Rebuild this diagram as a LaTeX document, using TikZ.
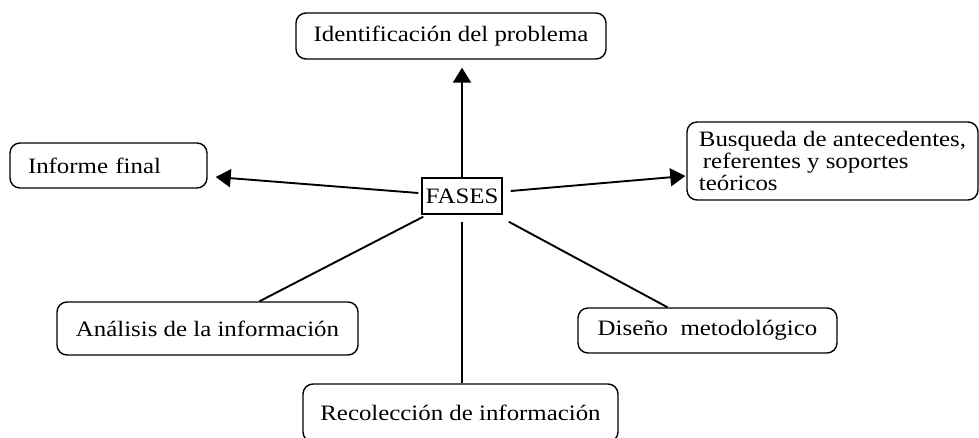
\documentclass[tikz,border=0pt]{standalone}
\usepackage{fontspec}
\setmainfont{Liberation Serif}[FakeStretch=1.13]
\usetikzlibrary{arrows.meta}
\usetikzlibrary{calc}

\begin{document}
\begin{tikzpicture}[x=1pt, y=-1pt,
	caja/.style={draw, line width=1.4pt, rounded corners=10pt, inner sep=0pt, font=\fontsize{22}{22}\selectfont},
	linea/.style={line width=1.9pt},
	flecha/.style={line width=1.9pt, -{Triangle[length=15pt,width=18pt]}}]
	\useasboundingbox (0,0) rectangle (979,438);
	%FASES
	\node (fases) at (462,196) [caja, rounded corners=0pt, minimum width=80pt, minimum height=36pt] {FASES};
	%
	%Identificacion del problema
	\node (ident) at (451,36) [caja, minimum width=310pt, minimum height=46pt] {Identificación del problema};
	%
	%Informe final
	\node (informe) at (108.5,165.5) [caja, minimum height=45pt, text width=161pt, inner xsep=18pt, align=left] {Informe final};
	%
	%Busqueda
	\node (busqueda) at (832.5,161) [caja, minimum width=291pt, minimum height=78pt, inner xsep=11pt, align=left] {Busqueda de antecedentes,\\\hspace*{4pt}referentes y soportes\\teóricos};
	%
	%Analisis
	\node (analisis) at (207.5,328.5) [caja, minimum width=301pt, minimum height=53pt] {Análisis de la información};
	%
	%Diseno
	\node (diseno) at (707.5,330.5) [caja, minimum width=259pt, minimum height=45pt] {Diseño~ metodológico};
	%
	%Recoleccion
	\node (recoleccion) at (460.5,413) [caja, minimum width=315pt, minimum height=58pt] {Recolección de información};
	%
	%%%%%%%%%%%%%%%%%%%%%%%%%%%%%%%%%%%%%%
	%Pfeile
	\draw[flecha, shorten >=8pt] (fases.north) -- (fases.north |- ident.south);
	\draw[flecha] ($(fases.west)+(-3,-3)$) -- ($(informe.east)+(8,11.5)$);
	\draw[flecha] ($(fases.east)+(8,-5)$) -- ($(busqueda.west)+(-1,15)$);
	%
	%Linien
	\draw[linea] ($(fases.south west)+(2,2)$) -- ($(analisis.north)+(52,0)$);
	\draw[linea] ($(fases.south east)+(6,7)$) -- ($(diseno.north)+(-40,0)$);
	\draw[linea, shorten <=7pt] (fases.south) -- (fases.south |- recoleccion.north);
\end{tikzpicture}
\end{document}
